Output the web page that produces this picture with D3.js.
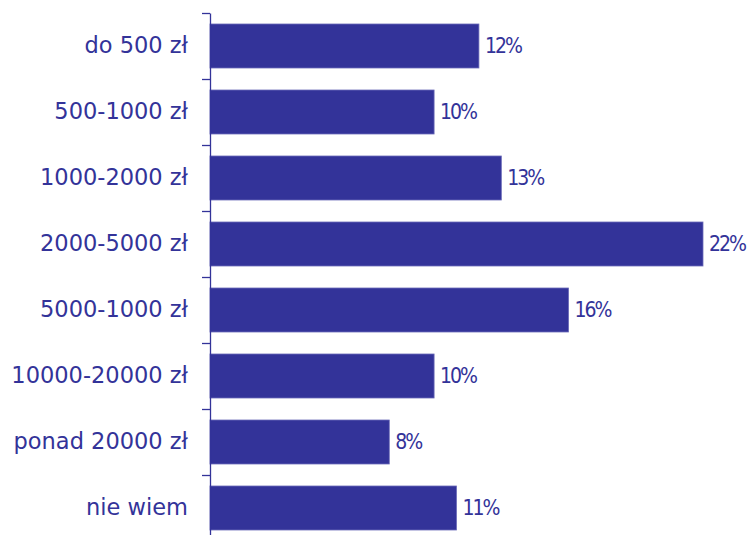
<!DOCTYPE html>
<html>
<head>
<meta charset="utf-8">
<script src="https://cdn.jsdelivr.net/npm/d3@7"></script>
<style>
  body { margin: 0; background: #fff; }
  svg { display: block; }
</style>
</head>
<body>
<div id="chart"></div>
<script>
// income brackets and share of answers (%)
var categories = ["do 500 zł", "500-1000 zł", "1000-2000 zł", "2000-5000 zł",
                  "5000-1000 zł", "10000-20000 zł", "ponad 20000 zł", "nie wiem"];
var shares = [12, 10, 13, 22, 16, 10, 8, 11];

var W = 748, H = 535;
var color = "#333399";

var svg = d3.select("#chart").append("svg")
    .attr("width", W)
    .attr("height", H);

var x = d3.scaleLinear()
    .domain([0, 22])
    .range([210, 703]);

var y = d3.scaleBand()
    .domain(categories)
    .range([13, 541])
    .paddingInner(1/3)
    .paddingOuter(1/6);

// boundaries between categories, for the tick marks
var edges = d3.scaleLinear()
    .domain([0, categories.length])
    .range([13, 541]);

var data = categories.map(function(c, i){ return {name: c, value: shares[i]}; });

svg.selectAll("rect.bar")
    .data(data)
    .enter()
    .append("rect")
    .attr("class", "bar")
    .attr("x", x(0))
    .attr("y", function(d){ return y(d.name); })
    .attr("width", function(d){ return x(d.value) - x(0); })
    .attr("height", y.bandwidth())
    .attr("fill", color)
    .attr("stroke", "#6b6bb8")
    .attr("stroke-width", 0.8);

var axis = svg.append("g")
    .attr("transform", "translate(" + x(0) + ",0)")
    .call(d3.axisLeft(edges)
        .tickValues(d3.range(categories.length + 1))
        .tickFormat("")
        .tickSize(8)
        .tickSizeOuter(0));
axis.selectAll("path, line")
    .attr("stroke", color)
    .attr("stroke-width", 1.3);

// category names
svg.selectAll("text.cat")
    .data(data)
    .enter()
    .append("text")
    .attr("class", "cat")
    .attr("x", 188)
    .attr("y", function(d){ return y(d.name) + y.bandwidth() / 2; })
    .attr("dy", "0.33em")
    .attr("text-anchor", "end")
    .attr("fill", color)
    .style("font-family", "DejaVu Sans")
    .style("font-size", "22.5px")
    .text(function(d){ return d.name; });

// value labels
svg.selectAll("text.val")
    .data(data)
    .enter()
    .append("text")
    .attr("class", "val")
    .attr("x", function(d){ return x(d.value) + 6; })
    .attr("y", function(d){ return y(d.name) + y.bandwidth() / 2; })
    .attr("dy", "0.33em")
    .attr("fill", color)
    .style("font-family", "DejaVu Sans Condensed, DejaVu Sans")
    .style("font-size", "21px")
    .style("letter-spacing", "-2px")
    .text(function(d){ return d.value + "%"; });
</script>
</body>
</html>
